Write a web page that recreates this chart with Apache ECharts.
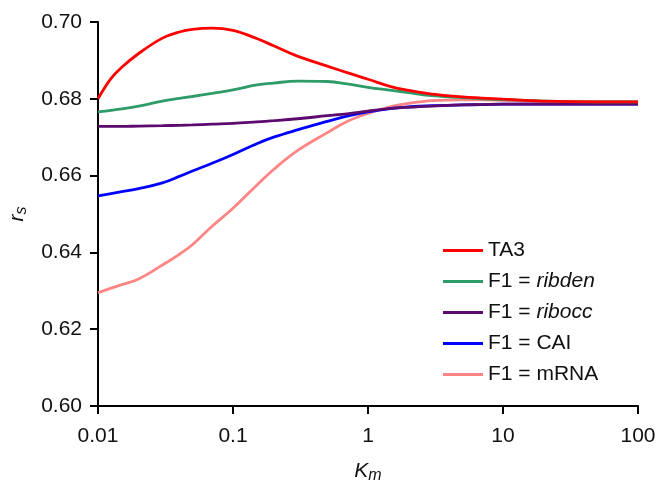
<!DOCTYPE html>
<html>
<head>
<meta charset="utf-8">
<script src="https://cdn.jsdelivr.net/npm/echarts@6/dist/echarts.min.js"></script>
<style>
  html, body { margin: 0; padding: 0; background: #fff; }
  #chart { width: 658px; height: 481px; }
</style>
</head>
<body>
<div id="chart"></div>
<script>
// ===== data =====
const kmValues = [0.01, 0.0125, 0.015, 0.02, 0.03, 0.04, 0.05, 0.07, 0.1, 0.15, 0.2, 0.3, 0.5, 0.7, 1, 1.5, 2, 3, 5, 7, 10, 20, 50, 100];

const ta3    = [0.6800, 0.6853, 0.6882, 0.6918, 0.6958, 0.6974, 0.6981, 0.6984, 0.6978, 0.6957, 0.6938, 0.6911, 0.6885, 0.6868, 0.6851, 0.6831, 0.6822, 0.6812, 0.6805, 0.6802, 0.6799, 0.6794, 0.6792, 0.6792];
const ribden = [0.6766, 0.6770, 0.6774, 0.6781, 0.6794, 0.6801, 0.6806, 0.6814, 0.6823, 0.6836, 0.6841, 0.6846, 0.6845, 0.6839, 0.6830, 0.6822, 0.6816, 0.6808, 0.6803, 0.6800, 0.6798, 0.6794, 0.6792, 0.6792];
const ribocc = [0.6728, 0.6728, 0.6728, 0.6729, 0.6730, 0.6731, 0.6732, 0.6734, 0.6736, 0.6740, 0.6743, 0.6748, 0.6756, 0.6761, 0.6768, 0.6775, 0.6778, 0.6781, 0.6784, 0.6785, 0.6786, 0.6786, 0.6786, 0.6786];
const cai    = [0.6547, 0.6553, 0.6558, 0.6566, 0.6581, 0.6598, 0.6612, 0.6632, 0.6655, 0.6683, 0.6700, 0.6719, 0.6741, 0.6755, 0.6766, 0.6775, 0.6779, 0.6782, 0.6784, 0.6785, 0.6786, 0.6786, 0.6786, 0.6786];
const mrna   = [0.6295, 0.6307, 0.6316, 0.6331, 0.6367, 0.6395, 0.6420, 0.6468, 0.6515, 0.6575, 0.6616, 0.6665, 0.6712, 0.6741, 0.6762, 0.6780, 0.6788, 0.6795, 0.6797, 0.6797, 0.6796, 0.6793, 0.6792, 0.6792];

const seriesNames  = ['TA3', 'F1 = ribden', 'F1 = ribocc', 'F1 = CAI', 'F1 = mRNA'];
const seriesColors = ['#ff0000', '#2e9b68', '#5c0a6e', '#0000ff', '#ff8585'];
const seriesValues = [ta3, ribden, ribocc, cai, mrna];

const FONT = 'Liberation Sans, Arial, sans-serif';
const LINE_ICON = 'path://M0,0L40,0L40,3L0,3Z';

const chart = echarts.init(document.getElementById('chart'));

const series = seriesNames.map((name, i) => ({
    name: name,
    type: 'line',
    smooth: 0.4,
    symbol: 'none',
    data: kmValues.map((k, j) => [k, seriesValues[i][j]]),
    lineStyle: { color: seriesColors[i], width: 2.8 },
    itemStyle: { color: seriesColors[i] },
    z: 10 - i,
}));

chart.setOption({
    animation: false,
    grid: { left: 98, right: 20, top: 22, bottom: 75, outerBoundsMode: 'none', containLabel: false },
    legend: {
        orient: 'vertical',
        left: 438,
        top: 235,
        itemWidth: 40,
        itemHeight: 21,
        itemGap: 10,
        icon: LINE_ICON,
        data: seriesNames,
        formatter: name => name.replace(/(ribden|ribocc)/, '{i|$1}'),
        textStyle: {
            fontFamily: FONT,
            fontSize: 21,
            color: '#111',
            rich: { i: { fontFamily: FONT, fontSize: 21, fontStyle: 'italic', color: '#111' } },
        },
    },
    xAxis: {
        type: 'log',
        logBase: 10,
        min: 0.01,
        max: 100,
        name: '{k|K}{m|m}',
        nameLocation: 'middle',
        nameGap: 52,
        nameTextStyle: {
            rich: {
                k: { fontFamily: FONT, fontSize: 21, fontStyle: 'italic', color: '#111' },
                m: { fontFamily: FONT, fontSize: 16, fontStyle: 'italic', color: '#111', padding: [10, 0, 0, 0] },
            },
        },
        splitLine: { show: false },
        axisLine: { lineStyle: { color: '#000', width: 2 } },
        axisTick: { length: 8, lineStyle: { color: '#000', width: 2 } },
        axisLabel: {
            fontFamily: FONT,
            fontSize: 21,
            color: '#111',
            margin: 20,
            formatter: v => String(Number(v.toPrecision(6))),
        },
    },
    yAxis: {
        type: 'value',
        min: 0.6,
        max: 0.7,
        interval: 0.02,
        name: '{r|r}{s|s}',
        nameLocation: 'middle',
        nameGap: 68,
        nameTextStyle: {
            rich: {
                r: { fontFamily: FONT, fontSize: 21, fontStyle: 'italic', color: '#111' },
                s: { fontFamily: FONT, fontSize: 16, fontStyle: 'italic', color: '#111', padding: [10, 0, 0, 0] },
            },
        },
        splitLine: { show: false },
        axisLine: { show: true, lineStyle: { color: '#000', width: 2 } },
        axisTick: { show: true, length: 8, lineStyle: { color: '#000', width: 2 } },
        axisLabel: {
            fontFamily: FONT,
            fontSize: 21,
            color: '#111',
            margin: 16,
            formatter: v => v.toFixed(2),
        },
    },
    series: series,
});

window.addEventListener('resize', () => chart.resize());
</script>
</body>
</html>
